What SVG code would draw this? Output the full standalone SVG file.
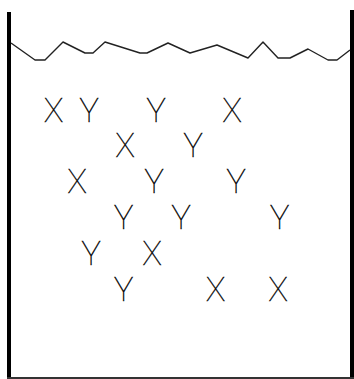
<svg xmlns="http://www.w3.org/2000/svg" width="354" height="379" viewBox="0 0 354 379">
<style>
.wall{fill:#000}
.water{fill:none;stroke:#222;stroke-width:1.4;stroke-linejoin:round}
.p{font-family:Roboto,"Liberation Sans",sans-serif;font-weight:100;font-size:33px;fill:#000;stroke:#000;stroke-width:0.3;text-anchor:middle}
</style>
<rect width="354" height="379" fill="#fff"/>
<g id="container">
<rect class="wall" x="7" y="12" width="4" height="367"/>
<rect class="wall" x="350" y="10" width="4" height="369"/>
<rect x="7" y="377" width="347" height="2" fill="#333"/>
</g>
<g id="water">
<polyline class="water" points="11,43 35,60 45,60 63,42 85,53 93,53 105,42 140,53 147,53 168,43 190,53 217,45 248,58 263,42 278,58 290,58 308,49 328,60 337,60 350,50"/>
</g>
<g id="particles">
<text class="p" x="53.5" y="122">X</text>
<text class="p" x="89" y="122">Y</text>
<text class="p" x="156" y="122">Y</text>
<text class="p" x="232" y="122">X</text>
<text class="p" x="125" y="157">X</text>
<text class="p" x="193" y="157">Y</text>
<text class="p" x="77" y="193">X</text>
<text class="p" x="154" y="193">Y</text>
<text class="p" x="236" y="193">Y</text>
<text class="p" x="123.5" y="229">Y</text>
<text class="p" x="181" y="229">Y</text>
<text class="p" x="279.5" y="229">Y</text>
<text class="p" x="91" y="265">Y</text>
<text class="p" x="152" y="265">X</text>
<text class="p" x="123.5" y="301">Y</text>
<text class="p" x="215.5" y="301">X</text>
<text class="p" x="278" y="301">X</text>
</g>
</svg>
